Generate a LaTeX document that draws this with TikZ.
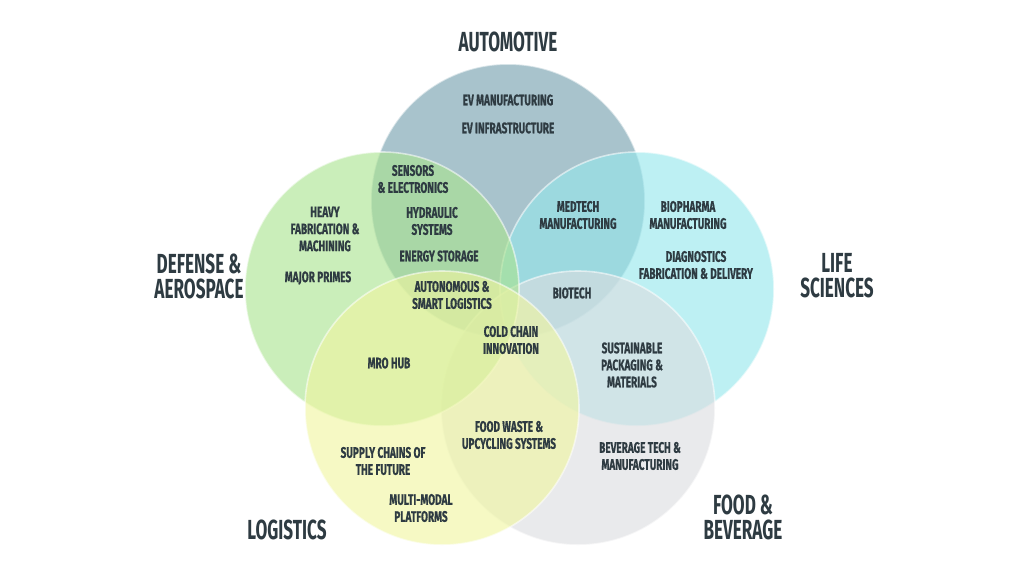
\documentclass[tikz,border=0pt]{standalone}
\usepackage{fontspec}
\setmainfont{Fira Sans}[FakeStretch=0.66,FakeBold=0.6]
\newfontfamily\titlefont{Fira Sans}[FakeStretch=0.62]
\definecolor{ink}{HTML}{2E3B42}
\definecolor{autoblue}{RGB}{115,158,173}
\definecolor{lifecyan}{RGB}{149,231,236}
\definecolor{defgreen}{RGB}{170,227,143}
\definecolor{logyellow}{RGB}{240,246,160}
\definecolor{foodgrey}{RGB}{220,221,224}
\begin{document}
\begin{tikzpicture}[x=0.75pt,y=-0.75pt,
		every node/.style={align=center,text=ink,inner sep=1pt,
			font=\bfseries\fontsize{11.4}{12.75}\selectfont},
		title/.style={font=\titlefont\bfseries\fontsize{20.7}{18.75}\selectfont},
		ring/.style={draw=white,draw opacity=0.55,line width=1.2pt,fill opacity=0.62}]
	\useasboundingbox (0,0) rectangle (1024,576);
	% los cinco sectores
	\path[ring,fill=autoblue]  (508,201) circle (137);
	\path[ring,fill=lifecyan]  (637,289) circle (137);
	\path[ring,fill=foodgrey]  (578,408) circle (137);
	\path[ring,fill=defgreen]  (382,289) circle (137);
	\path[ring,fill=logyellow] (442,408) circle (137);

	% titulos
	\node[title] (automotive) at (508,42)  {AUTOMOTIVE};
	\node[title] (defense)    at (199,276) {DEFENSE \&\\AEROSPACE};
	\node[title] (life)       at (837,276) {LIFE\\SCIENCES};
	\node[title] (logistics)  at (287,530) {LOGISTICS};
	\node[title] (food)       at (743,517) {FOOD \&\\BEVERAGE};

	% areas
	\node (evmanu)   at (508,100) {EV MANUFACTURING};
	\node (evinfra)  at (508,128) {EV INFRASTRUCTURE};
	\node (sensors)  at (413,179) {SENSORS\\\& ELECTRONICS};
	\node (hydro)    at (432,221) {HYDRAULIC\\SYSTEMS};
	\node (energy)   at (439,256) {ENERGY STORAGE};
	\node (auton)    at (452,295) {AUTONOMOUS \&\\SMART LOGISTICS};
	\node (heavy)    at (325,229) {HEAVY\\FABRICATION \&\\MACHINING};
	\node (primes)   at (318,278) {MAJOR PRIMES};
	\node (medtech)  at (578,215) {MEDTECH\\MANUFACTURING};
	\node (biopharma) at (688,215) {BIOPHARMA\\MANUFACTURING};
	\node (diag)     at (696,265) {DIAGNOSTICS\\FABRICATION \& DELIVERY};
	\node (biotech)  at (572,293) {BIOTECH};
	\node (cold)     at (511,340) {COLD CHAIN\\INNOVATION};
	\node (mro)      at (389,363) {MRO HUB};
	\node (waste)    at (509,435) {FOOD WASTE \&\\UPCYCLING SYSTEMS};
	\node (supply)   at (383,461) {SUPPLY CHAINS OF\\THE FUTURE};
	\node (modal)    at (421,508) {MULTI-MODAL\\PLATFORMS};
	\node (pack)     at (632,365) {SUSTAINABLE\\PACKAGING \&\\MATERIALS};
	\node (beverage) at (640,456) {BEVERAGE TECH \&\\MANUFACTURING};
\end{tikzpicture}
\end{document}
